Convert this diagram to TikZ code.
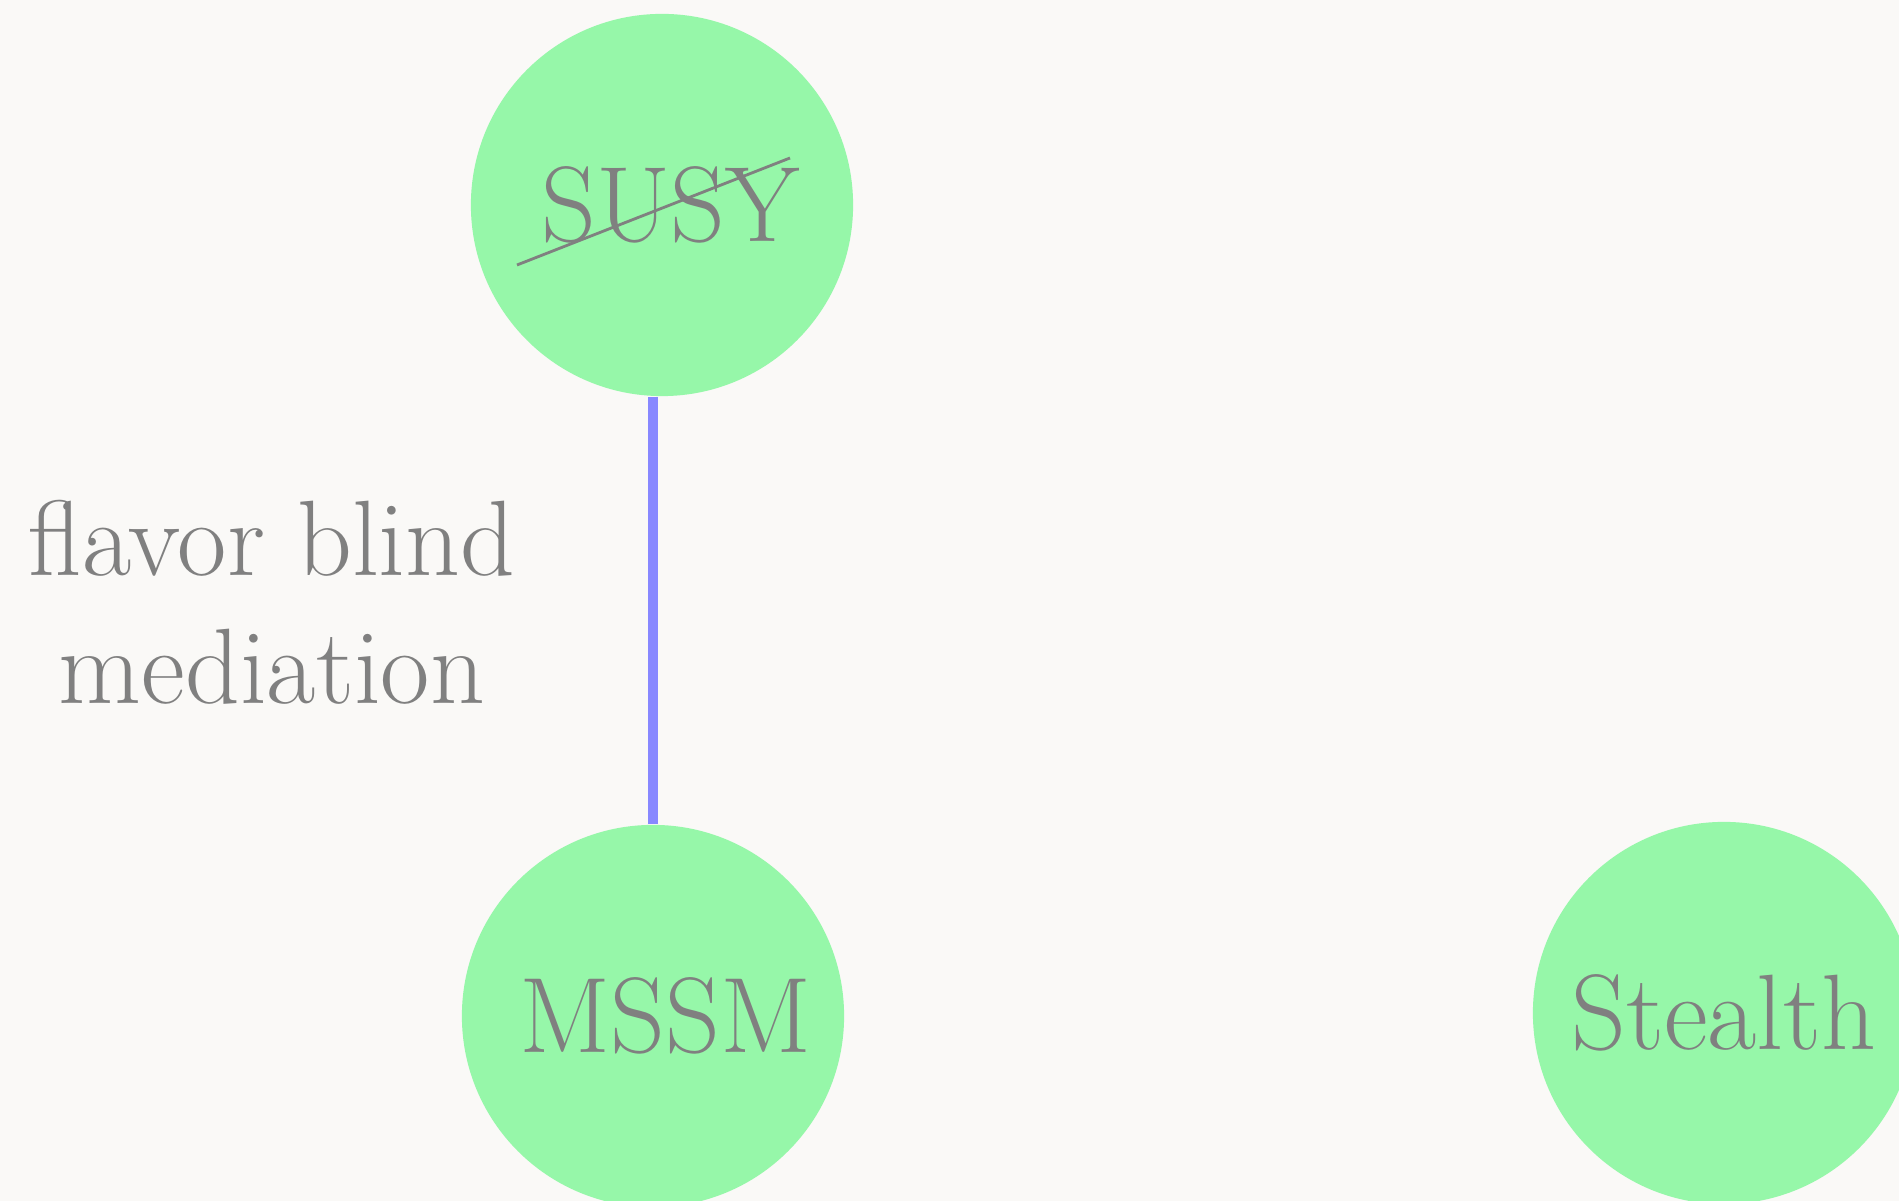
\documentclass[tikz,border=0pt]{standalone}
\usetikzlibrary{calc}
\definecolor{bgc}{RGB}{250,249,247}
\definecolor{nodegreen}{RGB}{150,247,169}
\definecolor{txtgray}{RGB}{128,128,128}
\definecolor{linkblue}{RGB}{136,136,255}
\begin{document}
\begin{tikzpicture}[x=0.01cm,y=-0.01cm,
  ball/.style={circle,fill=nodegreen,draw=none,minimum size=3.82cm,inner sep=0pt,
    text=txtgray,font=\fontsize{30.5}{36}\selectfont},
  lbl/.style={text=txtgray,font=\fontsize{30.5}{36.3}\selectfont,align=center,inner sep=0pt},
  link/.style={draw=linkblue,line width=0.1cm},
  strike/.style={draw=txtgray,line width=0.8pt}]
\fill[bgc] (0,0) rectangle (1899,1201);
\useasboundingbox (0,0) rectangle (1899,1201);
\node[ball] (SUSY) at (662,205) {\hspace{5pt}SUSY};
\node[ball] (MSSM) at (653,1016) {\hspace{7pt}MSSM};
\node[ball] (Stealth) at (1724,1013) {Stealth};
\draw[link] (SUSY.south -| MSSM.north) -- (MSSM.north);
\node[lbl] (med) at (272,602) {flavor blind\\mediation};
\coordinate (s1) at ($(SUSY.center)+(-145,60)$);
\coordinate (s2) at ($(SUSY.center)+(128,-47)$);
\draw[strike] (s1) -- (s2);
\end{tikzpicture}
\end{document}
